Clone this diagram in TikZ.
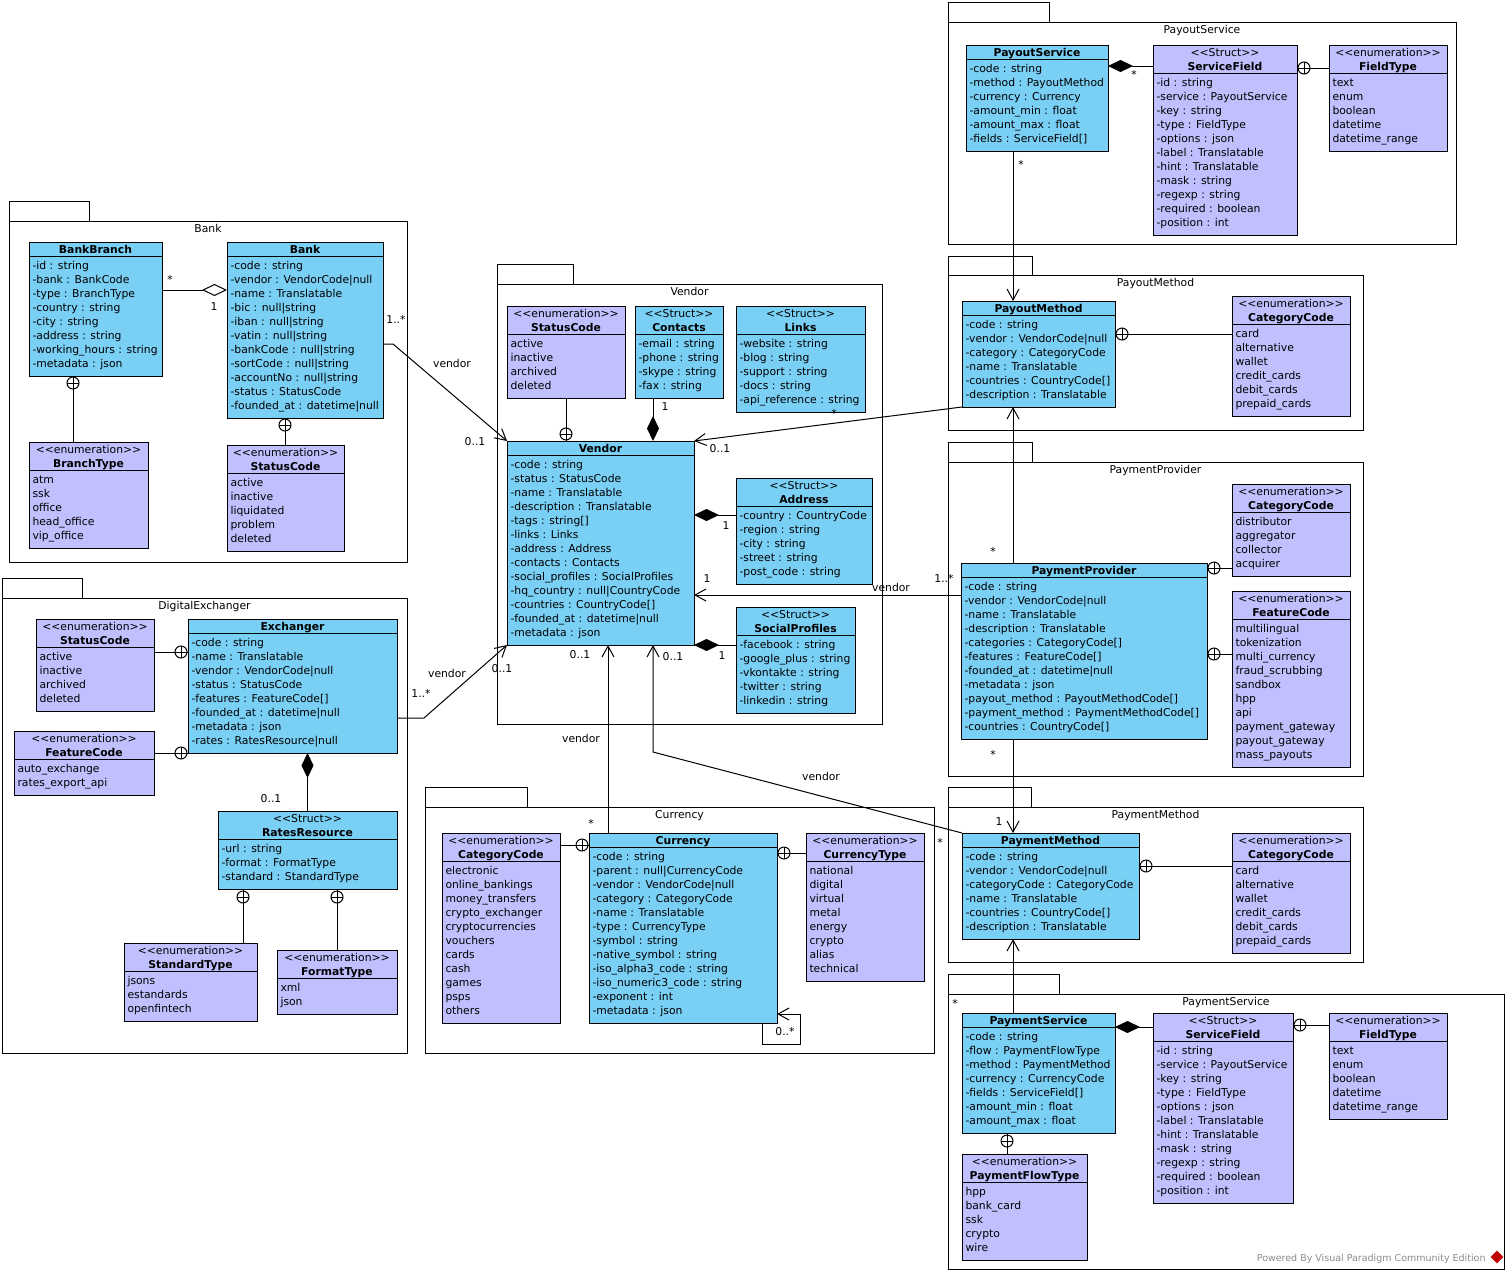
\documentclass[tikz,border=0pt]{standalone}
\usepackage{fontspec}
\setmainfont{DejaVu Sans}
\usetikzlibrary{arrows.meta}
\definecolor{clsblue}{RGB}{122,207,245}
\definecolor{enumlav}{RGB}{192,192,255}

\newcommand{\ster}[1]{<\kern0pt<#1>\kern0pt>}
% id, style, x, y, width, rows, stereotype, title, attributes
\newcommand{\umlclass}[9]{%
  \if\relax\detokenize{#7}\relax\def\hdh{14}\else\def\hdh{28}\fi
  \node[#2, minimum width=#5, minimum height={\hdh+#6*14+8}] (#1) at (#3,#4) {};
  \draw ([shift={(0,\hdh)}]#1.north west) -- ([shift={(0,\hdh)}]#1.north east);
  \if\relax\detokenize{#7}\relax
    \node[hdr] (#1-t) at ([shift={(0,11)}]#1.north) {\bfseries #8};
  \else
    \node[hdr] (#1-s) at ([shift={(0,11)}]#1.north) {\ster{#7}};
    \node[hdr] (#1-t) at ([shift={(0,25)}]#1.north) {\bfseries #8};
  \fi
  \foreach \attr [count=\i from 0] in {#9}
    \node[attrow] (#1-\i) at ([shift={(3,\hdh+13+14*\i)}]#1.north west) {\attr};
}
% id, x1, tab top, tab right, body top, x2, y2, name
\newcommand{\umlpackage}[8]{%
  \node[pkg, minimum width={#6-#2}, minimum height={#7-#5}] (#1) at (#2,#5) {};
  \draw (#1.north west) rectangle ++({#4-#2},{#3-#5});
  \node[hdr] (#1-name) at ([shift={(0,11)}]#1.north) {#8};
}

\tikzset{
  umlcls/.style={draw, fill=clsblue, anchor=north west, inner sep=0, outer sep=0},
  umlenum/.style={draw, fill=enumlav, anchor=north west, inner sep=0, outer sep=0},
  pkg/.style={draw, anchor=north west, inner sep=0, outer sep=0},
  hdr/.style={anchor=base, inner sep=0},
  attrow/.style={anchor=base west, inner sep=0},
  lbl/.style={anchor=base, inner sep=0},
  nest/.style={circle, draw, fill=white, inner sep=0, minimum size=12,
    path picture={\draw (path picture bounding box.north) -- (path picture bounding box.south)
      (path picture bounding box.west) -- (path picture bounding box.east);}},
  assoc/.style={-{Straight Barb[length=11pt,width=12pt]}},
  comp/.style={{Diamond[length=25pt,width=12pt]}-},
  aggr/.style={-{Diamond[open,length=25pt,width=12pt]}},
}

\begin{document}
\begin{tikzpicture}[x=1pt, y=-1pt, line width=1pt, font=\fontsize{10.8}{14}\selectfont]
\fill[white] (0,0) rectangle (1509,1274);
\useasboundingbox (0,0) rectangle (1509,1274);

% packages
\umlpackage{pbank}{9}{201}{89}{221}{407}{562}{Bank}
\umlpackage{pdigex}{2}{578}{82}{598}{407}{1053}{DigitalExchanger}
\umlpackage{pvendor}{497}{264}{573}{284}{882}{724}{Vendor}
\umlpackage{pcurr}{425}{787}{527}{807}{934}{1053}{Currency}
\umlpackage{ppos}{948}{2}{1049}{22}{1456}{244}{PayoutService}
\umlpackage{ppom}{948}{256}{1032}{275}{1363}{430}{PayoutMethod}
\umlpackage{ppp}{948}{442}{1032}{462}{1363}{776}{PaymentProvider}
\umlpackage{ppme}{948}{787}{1031}{807}{1363}{962}{PaymentMethod}
\umlpackage{ppse}{948}{974}{1059}{994}{1504}{1269}{PaymentService}

% Bank
\umlclass{bankbranch}{umlcls}{29}{242}{133}{8}{}{BankBranch}{-id : string, -bank : BankCode, -type : BranchType, -country : string, -city : string, -address : string, -working\_hours : string, -metadata : json}
\umlclass{bank}{umlcls}{227}{242}{156}{11}{}{Bank}{-code : string, -vendor : VendorCode|null, -name : Translatable, -bic : null|string, -iban : null|string, -vatin : null|string, -bankCode : null|string, -sortCode : null|string, -accountNo : null|string, -status : StatusCode, -founded\_at : datetime|null}
\umlclass{branchtype}{umlenum}{29}{442}{119}{5}{enumeration}{BranchType}{atm, ssk, office, head\_office, vip\_office}
\umlclass{bankstatus}{umlenum}{227}{445}{117}{5}{enumeration}{StatusCode}{active, inactive, liquidated, problem, deleted}

% DigitalExchanger
\umlclass{destatus}{umlenum}{36}{619}{118}{4}{enumeration}{StatusCode}{active, inactive, archived, deleted}
\umlclass{exchanger}{umlcls}{188}{619}{209}{8}{}{Exchanger}{-code : string, -name : Translatable, -vendor : VendorCode|null, -status : StatusCode, -features : FeatureCode[], -founded\_at : datetime|null, -metadata : json, -rates : RatesResource|null}
\umlclass{defeature}{umlenum}{14}{731}{140}{2}{enumeration}{FeatureCode}{auto\_exchange, rates\_export\_api}
\umlclass{rates}{umlcls}{218}{811}{179}{3}{Struct}{RatesResource}{-url : string, -format : FormatType, -standard : StandardType}
\umlclass{standardtype}{umlenum}{124}{943}{133}{3}{enumeration}{StandardType}{jsons, estandards, openfintech}
\umlclass{formattype}{umlenum}{277}{950}{120}{2}{enumeration}{FormatType}{xml, json}

% Vendor
\umlclass{vstatus}{umlenum}{507}{306}{118}{4}{enumeration}{StatusCode}{active, inactive, archived, deleted}
\umlclass{contacts}{umlcls}{635}{306}{88}{4}{Struct}{Contacts}{-email : string, -phone : string, -skype : string, -fax : string}
\umlclass{links}{umlcls}{736}{306}{129}{5}{Struct}{Links}{-website : string, -blog : string, -support : string, -docs : string, -api\_reference : string}
\umlclass{vendor}{umlcls}{507}{441}{187}{13}{}{Vendor}{-code : string, -status : StatusCode, -name : Translatable, -description : Translatable, -tags : string[], -links : Links, -address : Address, -contacts : Contacts, -social\_profiles : SocialProfiles, -hq\_country : null|CountryCode, -countries : CountryCode[], -founded\_at : datetime|null, -metadata : json}
\umlclass{address}{umlcls}{736}{478}{136}{5}{Struct}{Address}{-country : CountryCode, -region : string, -city : string, -street : string, -post\_code : string}
\umlclass{social}{umlcls}{736}{607}{119}{5}{Struct}{SocialProfiles}{-facebook : string, -google\_plus : string, -vkontakte : string, -twitter : string, -linkedin : string}

% Currency
\umlclass{currcat}{umlenum}{442}{833}{118}{11}{enumeration}{CategoryCode}{electronic, online\_bankings, money\_transfers, crypto\_exchanger, cryptocurrencies, vouchers, cards, cash, games, psps, others}
\umlclass{currency}{umlcls}{589}{833}{188}{12}{}{Currency}{-code : string, -parent : null|CurrencyCode, -vendor : VendorCode|null, -category : CategoryCode, -name : Translatable, -type : CurrencyType, -symbol : string, -native\_symbol : string, -iso\_alpha3\_code : string, -iso\_numeric3\_code : string, -exponent : int, -metadata : json}
\umlclass{currtype}{umlenum}{806}{833}{118}{8}{enumeration}{CurrencyType}{national, digital, virtual, metal, energy, crypto, alias, technical}

% PayoutService
\umlclass{payoutservice}{umlcls}{966}{45}{142}{6}{}{PayoutService}{-code : string, -method : PayoutMethod, -currency : Currency, -amount\_min : float, -amount\_max : float, -fields : ServiceField[]}
\umlclass{posfield}{umlenum}{1153}{45}{144}{11}{Struct}{ServiceField}{-id : string, -service : PayoutService, -key : string, -type : FieldType, -options : json, -label : Translatable, -hint : Translatable, -mask : string, -regexp : string, -required : boolean, -position : int}
\umlclass{posftype}{umlenum}{1329}{45}{118}{5}{enumeration}{FieldType}{text, enum, boolean, datetime, datetime\_range}

% PayoutMethod
\umlclass{payoutmethod}{umlcls}{962}{301}{153}{6}{}{PayoutMethod}{-code : string, -vendor : VendorCode|null, -category : CategoryCode, -name : Translatable, -countries : CountryCode[], -description : Translatable}
\umlclass{pomcat}{umlenum}{1232}{296}{118}{6}{enumeration}{CategoryCode}{card, alternative, wallet, credit\_cards, debit\_cards, prepaid\_cards}

% PaymentProvider
\umlclass{ppcat}{umlenum}{1232}{484}{118}{4}{enumeration}{CategoryCode}{distributor, aggregator, collector, acquirer}
\umlclass{provider}{umlcls}{961}{563}{246}{11}{}{PaymentProvider}{-code : string, -vendor : VendorCode|null, -name : Translatable, -description : Translatable, -categories : CategoryCode[], -features : FeatureCode[], -founded\_at : datetime|null, -metadata : json, -payout\_method : PayoutMethodCode[], -payment\_method : PaymentMethodCode[], -countries : CountryCode[]}
\umlclass{ppfeat}{umlenum}{1232}{591}{118}{10}{enumeration}{FeatureCode}{multilingual, tokenization, multi\_currency, fraud\_scrubbing, sandbox, hpp, api, payment\_gateway, payout\_gateway, mass\_payouts}

% PaymentMethod
\umlclass{paymentmethod}{umlcls}{962}{833}{177}{6}{}{PaymentMethod}{-code : string, -vendor : VendorCode|null, -categoryCode : CategoryCode, -name : Translatable, -countries : CountryCode[], -description : Translatable}
\umlclass{pmecat}{umlenum}{1232}{833}{118}{6}{enumeration}{CategoryCode}{card, alternative, wallet, credit\_cards, debit\_cards, prepaid\_cards}

% PaymentService
\umlclass{paymentservice}{umlcls}{962}{1013}{153}{7}{}{PaymentService}{-code : string, -flow : PaymentFlowType, -method : PaymentMethod, -currency : CurrencyCode, -fields : ServiceField[], -amount\_min : float, -amount\_max : float}
\umlclass{psfield}{umlenum}{1153}{1013}{140}{11}{Struct}{ServiceField}{-id : string, -service : PayoutService, -key : string, -type : FieldType, -options : json, -label : Translatable, -hint : Translatable, -mask : string, -regexp : string, -required : boolean, -position : int}
\umlclass{psftype}{umlenum}{1329}{1013}{118}{5}{enumeration}{FieldType}{text, enum, boolean, datetime, datetime\_range}
\umlclass{flowtype}{umlenum}{962}{1154}{125}{5}{enumeration}{PaymentFlowType}{hpp, bank\_card, ssk, crypto, wire}

% associations
\draw[aggr] ([shift={(0,48)}]bankbranch.north east) -- ([shift={(0,48)}]bank.north west);
\draw[assoc] ([shift={(0,102)}]bank.north east) -- ++(10,0) -- (vendor.north west);
\draw[assoc] ([shift={(0,99)}]exchanger.north east) -- ++(27,0) -- (vendor.south west);
\draw[comp] (rates.north |- exchanger.south) -- (rates.north);
\draw[comp] ([shift={(146,0)}]vendor.north west) -- ([shift={(18,0)}]contacts.south west);
\draw[comp] ([shift={(0,74)}]vendor.north east) -- ([shift={(0,37)}]address.north west);
\draw[comp] (vendor.south east) -- ([shift={(0,38)}]social.north west);
\draw[assoc] (payoutmethod.south west) -- (vendor.north east);
\draw[assoc] ([shift={(0,32)}]provider.north west) -- ([shift={(0,154)}]vendor.north east);
\draw[assoc] ([shift={(19,0)}]currency.north west) -- ([shift={(101,0)}]vendor.south west);
\draw[assoc] (paymentmethod.north west) -- ([shift={(146,107)}]vendor.south west) -- ([shift={(146,0)}]vendor.south west);
\draw[assoc] ([shift={(-15,0)}]currency.south east) -- ++(0,21) -- ++(38,0) -- ++(0,-30) -- ([shift={(0,-9)}]currency.south east);
\draw[assoc] ([shift={(47,0)}]payoutservice.south west) -- ([shift={(51,0)}]payoutmethod.north west);
\draw[comp] ([shift={(0,21)}]payoutservice.north east) -- ([shift={(0,21)}]posfield.north west);
\draw[assoc] ([shift={(52,0)}]provider.north west) -- ([shift={(51,0)}]payoutmethod.south west);
\draw[assoc] ([shift={(52,0)}]provider.south west) -- ([shift={(51,0)}]paymentmethod.north west);
\draw[assoc] ([shift={(51,0)}]paymentservice.north west) -- ([shift={(51,0)}]paymentmethod.south west);
\draw[comp] ([shift={(0,14)}]paymentservice.north east) -- ([shift={(0,14)}]psfield.north west);

% nesting
\draw ([shift={(44,0)}]branchtype.north west) -- ([shift={(44,0)}]bankbranch.south west);
\draw ([shift={(58,0)}]bankstatus.north west) -- ([shift={(58,0)}]bank.south west);
\draw ([shift={(0,33)}]destatus.north east) -- ([shift={(0,33)}]exchanger.north west);
\draw ([shift={(0,22)}]defeature.north east) -- (exchanger.south west);
\draw ([shift={(119,0)}]standardtype.north west) -- ([shift={(25,0)}]rates.south west);
\draw (formattype.north) -- ([shift={(119,0)}]rates.south west);
\draw (vstatus.south) -- ([shift={(59,0)}]vendor.north west);
\draw ([shift={(0,12)}]currcat.north east) -- ([shift={(0,12)}]currency.north west);
\draw ([shift={(0,20)}]currtype.north west) -- ([shift={(0,20)}]currency.north east);
\draw ([shift={(0,23)}]posftype.north west) -- ([shift={(0,23)}]posfield.north east);
\draw ([shift={(0,38)}]pomcat.north west) -- ([shift={(0,33)}]payoutmethod.north east);
\draw ([shift={(0,84)}]ppcat.north west) -- ([shift={(0,5)}]provider.north east);
\draw ([shift={(0,63)}]ppfeat.north west) -- ([shift={(0,91)}]provider.north east);
\draw ([shift={(0,33)}]pmecat.north west) -- ([shift={(0,33)}]paymentmethod.north east);
\draw ([shift={(0,12)}]psftype.north west) -- ([shift={(0,12)}]psfield.north east);
\draw ([shift={(45,0)}]flowtype.north west) -- ([shift={(45,0)}]paymentservice.south west);

\node[nest] (n1) at ([shift={(44,7)}]bankbranch.south west) {};
\node[nest] (n2) at ([shift={(58,7)}]bank.south west) {};
\node[nest] (n3) at ([shift={(-7,33)}]exchanger.north west) {};
\node[nest] (n4) at ([shift={(-7,0)}]exchanger.south west) {};
\node[nest] (n5) at ([shift={(25,8)}]rates.south west) {};
\node[nest] (n6) at ([shift={(119,8)}]rates.south west) {};
\node[nest] (n7) at ([shift={(59,-7)}]vendor.north west) {};
\node[nest] (n8) at ([shift={(-7,12)}]currency.north west) {};
\node[nest] (n9) at ([shift={(7,20)}]currency.north east) {};
\node[nest] (n10) at ([shift={(7,23)}]posfield.north east) {};
\node[nest] (n11) at ([shift={(7,33)}]payoutmethod.north east) {};
\node[nest] (n12) at ([shift={(7,5)}]provider.north east) {};
\node[nest] (n13) at ([shift={(7,91)}]provider.north east) {};
\node[nest] (n14) at ([shift={(7,33)}]paymentmethod.north east) {};
\node[nest] (n15) at ([shift={(7,12)}]psfield.north east) {};
\node[nest] (n16) at ([shift={(45,8)}]paymentservice.south west) {};

% multiplicities and roles
\foreach \px/\py/\tx [count=\k] in {170/283/*, 214/310/1, 396/323/1..*, 452/367/vendor, 475/445/0..1,
    271/802/0..1, 447/677/vendor, 421/697/1..*, 502/672/0..1, 665/410/1, 726/529/1, 722/659/1,
    834/417/*, 720/452/0..1, 707/582/1, 891/591/vendor, 944/582/1..*, 580/658/0..1, 581/742/vendor,
    591/827/*, 673/660/0..1, 821/780/vendor, 940/846/*, 785/1035/0..*, 1134/78/*, 1021/168/*,
    993/555/*, 993/758/*, 999/825/1, 955/1007/*}
  \node[lbl] (lab\k) at (\px,\py) {\tx};

\node[anchor=base east, inner sep=0, text=black!45, font=\fontsize{9.5}{11}\selectfont] (wm) at (1486,1261) {Powered By Visual Paradigm Community Edition};
\node[fill=red!75!black, rotate=45, minimum size=9, inner sep=0] (wmlogo) at (1497,1257) {};
\end{tikzpicture}
\end{document}
